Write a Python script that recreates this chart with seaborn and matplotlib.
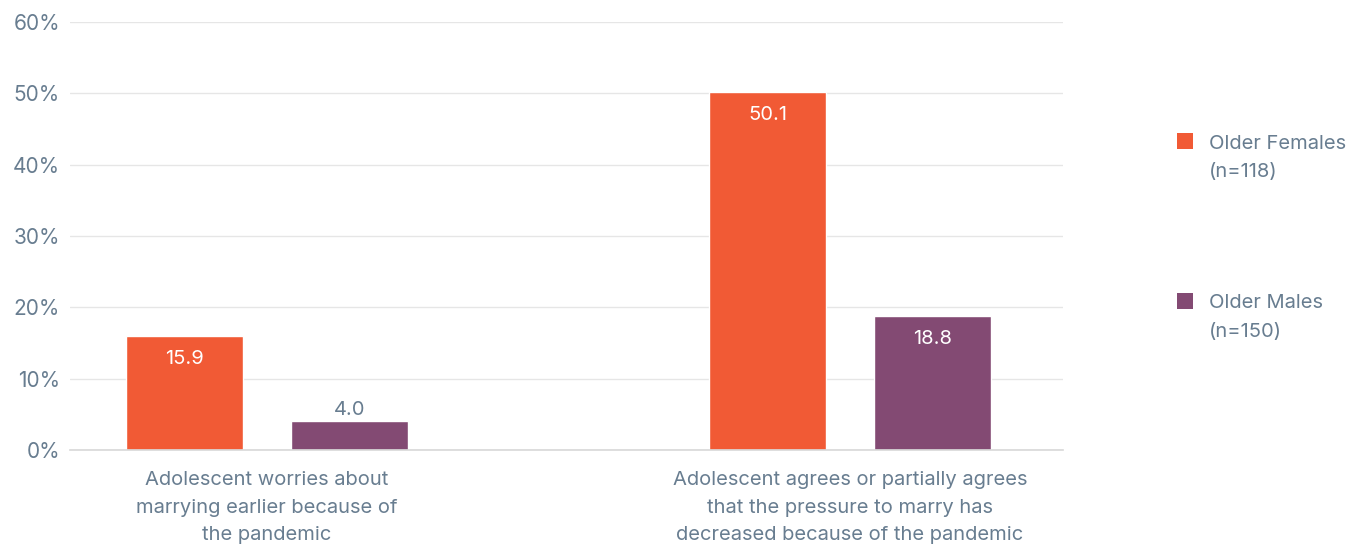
import matplotlib
matplotlib.use("Agg")
import matplotlib.pyplot as plt
import matplotlib.patches as mpatches
from matplotlib.legend_handler import HandlerPatch
import seaborn as sns
import pandas as pd

# Survey results (percent of respondents)
categories = [
    "Adolescent worries about\nmarrying earlier because of\nthe pandemic",
    "Adolescent agrees or partially agrees\nthat the pressure to marry has\ndecreased because of the pandemic",
]
groups = ["Older Females\n(n=118)", "Older Males\n(n=150)"]
female_values = [15.9, 50.1]
male_values = [4.0, 18.8]
y_ticks = [0, 10, 20, 30, 40, 50, 60]
y_tick_labels = ["0%", "10%", "20%", "30%", "40%", "50%", "60%"]

ORANGE = "#F15A35"
PURPLE = "#834A73"
TEXT = "#687D90"
GRID = "#E6E6E6"
FS = 14.5

df = pd.DataFrame({
    "category": categories * 2,
    "group": [groups[0]] * 2 + [groups[1]] * 2,
    "value": female_values + male_values,
})

sns.set_theme(style="white")
plt.rcParams["font.family"] = ["Inter", "DejaVu Sans"]

fig = plt.figure(figsize=(13.66, 5.46), dpi=100)
ax = fig.add_axes([0.051, 0.176, 0.727, 0.784])

sns.barplot(
    data=df, x="category", y="value", hue="group",
    order=categories, hue_order=groups,
    palette=[ORANGE, PURPLE], width=0.566, gap=0.29,
    ax=ax, legend=False, saturation=1,
)

ax.set_ylim(0, 60)
ax.set_xlim(-0.338, 1.365)
ax.set_yticks(y_ticks)
ax.set_yticklabels(y_tick_labels)
ax.set_xlabel("")
ax.set_ylabel("")
ax.yaxis.grid(True, color=GRID, linewidth=1)
ax.set_axisbelow(True)
for side in ["top", "right", "left"]:
    ax.spines[side].set_visible(False)
ax.spines["bottom"].set_color("#D8D8D8")
ax.spines["bottom"].set_linewidth(1.2)
ax.tick_params(axis="y", length=0, pad=7, labelsize=FS + 0.5, labelcolor=TEXT)
ax.tick_params(axis="x", length=0, pad=15, labelsize=FS, labelcolor=TEXT)
for lbl in ax.get_xticklabels():
    lbl.set_linespacing(1.7)

# Value labels: inside the bar (white) when tall enough, above it otherwise
for container, vals in zip(ax.containers, [female_values, male_values]):
    for bar, v in zip(container, vals):
        cx = bar.get_x() + bar.get_width() / 2
        if v > 8:
            ax.annotate(f"{v:.1f}", (cx, v), xytext=(0, -16.5), textcoords="offset points",
                        ha="center", va="center", color="white", fontsize=FS)
        else:
            ax.annotate(f"{v:.1f}", (cx, v), xytext=(0, 8), textcoords="offset points",
                        ha="center", va="center", color=TEXT, fontsize=FS)


class TopAlignedSquare(HandlerPatch):
    def __init__(self, shift, **kw):
        super().__init__(**kw)
        self.shift = shift

    def create_artists(self, legend, orig_handle, xdescent, ydescent, width, height,
                       fontsize, trans):
        p = mpatches.Rectangle((-xdescent, -ydescent + self.shift), width, height,
                               facecolor=orig_handle.get_facecolor(), edgecolor="none",
                               transform=trans)
        return [p]


handles = [mpatches.Patch(facecolor=ORANGE), mpatches.Patch(facecolor=PURPLE)]
leg = fig.legend(
    handles, groups, loc="upper left", bbox_to_anchor=(0.854, 0.772),
    frameon=False, fontsize=FS, labelcolor=TEXT,
    handlelength=0.82, handleheight=0.82, handletextpad=0.8,
    labelspacing=5.65, borderpad=0,
    handler_map={mpatches.Patch: TopAlignedSquare(shift=12)},
)
for t in leg.get_texts():
    t.set_linespacing(1.72)

fig.savefig("out.png", dpi=100)
